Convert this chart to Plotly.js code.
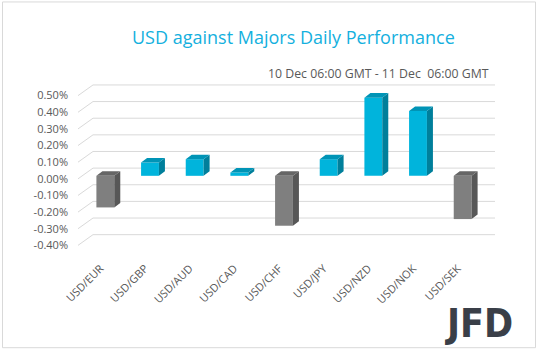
<!DOCTYPE html>
<html><head><meta charset="utf-8">
<script src="https://cdn.plot.ly/plotly-3.0.1.min.js"></script>
<style>html,body{margin:0;padding:0;background:#fff}#chart{width:538px;height:351px}</style>
</head><body><div id="chart"></div>
<script>
// ---- data ----
const categories = ['USD/EUR','USD/GBP','USD/AUD','USD/CAD','USD/CHF','USD/JPY','USD/NZD','USD/NOK','USD/SEK'];
const changes = [-0.19, 0.08, 0.10, 0.02, -0.30, 0.10, 0.47, 0.39, -0.26];
const yTickVals = [-0.4,-0.3,-0.2,-0.1,0,0.1,0.2,0.3,0.4,0.5];
const yTickText = ['-0.40%','-0.30%','-0.20%','-0.10%','0.00%','0.10%','0.20%','0.30%','0.40%','0.50%'];
const titleText = 'USD against Majors Daily Performance';
const subtitleText = '10 Dec 06:00 GMT - 11 Dec\u00a0 06:00 GMT';
const logoText = 'JFD';

// ---- geometry / style ----
const W=538, H=351;
const M={l:83, r:53, t:76.4, b:92};
const xRange=[-0.5,8.5], yRange=[-0.5,0.6];
const plotW=W-M.l-M.r, plotH=H-M.t-M.b;
const pxX=plotW/(xRange[1]-xRange[0]), pxY=plotH/(yRange[1]-yRange[0]);
const px2paperX = p => (p-M.l)/plotW;
const px2paperY = p => (H-M.b-p)/plotH;
const barW=0.4, depthX=6/pxX, depthY=4.5/pxY;
const COL = {
  pos:{front:'#00b4dc', side:'#007f9b', top:'#0094b6'},
  neg:{front:'#7f7f7f', side:'#575757', top:'#666666'}
};

const xIdx = categories.map((c,i)=>i);

function faces(positive){
  const side={x:[],y:[]}, top={x:[],y:[]};
  changes.forEach((v,i)=>{
    if((v>=0)!==positive) return;
    const xl=i-barW/2, xr=i+barW/2, t=Math.max(v,0), b=Math.min(v,0);
    side.x.push(xr, xr+depthX, xr+depthX, xr, xr, null);
    side.y.push(b, b+depthY, t+depthY, t, b, null);
    top.x.push(xl, xl+depthX, xr+depthX, xr, xl, null);
    top.y.push(t, t+depthY, t+depthY, t, t, null);
  });
  return {side, top};
}

const traces = [{
  type:'bar', x:xIdx, y:changes, width:barW,
  marker:{color:changes.map(v=>v>=0?COL.pos.front:COL.neg.front), line:{width:0}},
  hoverinfo:'skip'
}];
[true,false].forEach(p=>{
  const f=faces(p), c=p?COL.pos:COL.neg;
  traces.push({type:'scatter', mode:'lines', x:f.side.x, y:f.side.y, fill:'toself', fillcolor:c.side, line:{width:0, color:c.side}, hoverinfo:'skip'});
  traces.push({type:'scatter', mode:'lines', x:f.top.x, y:f.top.y, fill:'toself', fillcolor:c.top, line:{width:0, color:c.top}, hoverinfo:'skip'});
});

const shapes = [];
yTickVals.forEach(v=>{
  const common = {type:'line', layer:'below', xref:'paper', xsizemode:'pixel', xanchor:0,
    yref:'y', ysizemode:'pixel', yanchor:v, line:{color:'#d9d9d9', width:1}};
  shapes.push(Object.assign({}, common, {x0:10, x1:412, y0:7.7, y1:7.7}));
  shapes.push(Object.assign({}, common, {x0:-5, x1:10, y0:-3, y1:7.7}));
});
shapes.push({type:'rect', xref:'paper', yref:'paper', layer:'below',
  x0:px2paperX(2.5), x1:px2paperX(535.5), y0:px2paperY(2.5), y1:px2paperY(347.5),
  line:{color:'#d9d9d9', width:1}, fillcolor:'rgba(0,0,0,0)'});

const annotations = [
  {text:titleText, xref:'paper', yref:'paper', x:px2paperX(293), y:px2paperY(37), xanchor:'center', yanchor:'middle', showarrow:false,
   font:{family:'Open Sans', size:18, color:'#14b0de'}},
  {text:subtitleText, xref:'paper', yref:'paper', x:px2paperX(491), y:px2paperY(74), xanchor:'right', yanchor:'middle', showarrow:false,
   font:{family:'Open Sans', size:12.3, color:'#595959'}},
  {text:logoText, xref:'paper', yref:'paper', x:px2paperX(515), y:px2paperY(323), xanchor:'right', yanchor:'middle', showarrow:false,
   font:{family:'DejaVu Sans Condensed', size:39, color:'#3a3f48', weight:'bold'}}
];

const layout = {
  width:W, height:H, margin:M, showlegend:false,
  paper_bgcolor:'#fff', plot_bgcolor:'rgba(0,0,0,0)',
  xaxis:{type:'linear', range:xRange, tickvals:xIdx, ticktext:categories, tickangle:-45,
    showgrid:false, zeroline:false, showline:false, ticks:'', fixedrange:true, ticklabelshift:-5,
    tickfont:{family:'Open Sans', size:11, color:'#595959'}},
  yaxis:{range:yRange, tickvals:yTickVals, ticktext:yTickText, showgrid:false, zeroline:false,
    showline:false, ticks:'', ticklabelstandoff:14, ticklabelshift:3, fixedrange:true,
    tickfont:{family:'Open Sans', size:11, color:'#595959'}},
  shapes, annotations
};
Plotly.newPlot('chart', traces, layout, {staticPlot:true, displayModeBar:false});
</script></body></html>
